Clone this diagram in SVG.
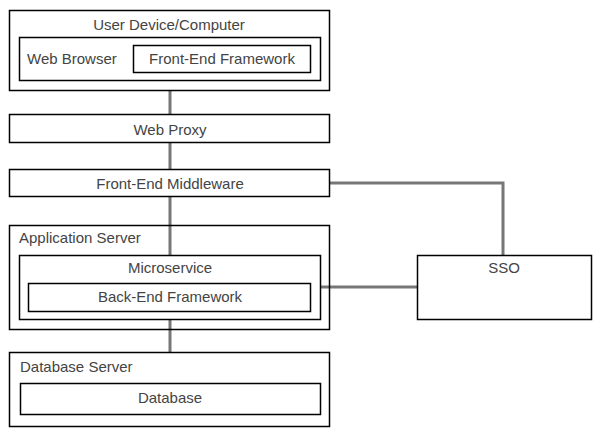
<svg xmlns="http://www.w3.org/2000/svg" width="599" height="439" viewBox="0 0 599 439">
<style>
rect{fill:#fff;stroke:#000;stroke-width:1.5}
text{font-family:"Liberation Sans",Arial,sans-serif;font-size:15px;fill:#444}
.c{text-anchor:middle}
.conn path{fill:none;stroke:#777;stroke-width:3}
</style>
<rect x="0" y="0" width="599" height="439" style="stroke:none"/>
<g class="conn">
<path d="M170 73V114"/>
<path d="M170 143V169"/>
<path d="M170 197V255"/>
<path d="M170 320V352"/>
<path d="M330 183H503V256"/>
<path d="M321 287H417"/>
</g>
<g id="user-device">
<rect x="9.5" y="10.5" width="320" height="80"/>
<text class="c" x="169" y="30">User Device/Computer</text>
<g id="web-browser">
<rect x="19.5" y="37.5" width="301" height="43"/>
<text x="27" y="64">Web Browser</text>
</g>
<g id="front-end-framework">
<rect x="133.5" y="45.5" width="177" height="27"/>
<text class="c" x="222" y="64">Front-End Framework</text>
</g>
</g>
<g id="web-proxy">
<rect x="9.5" y="114.5" width="320" height="28"/>
<text class="c" x="170" y="135">Web Proxy</text>
</g>
<g id="front-end-middleware">
<rect x="9.5" y="169.5" width="320" height="27"/>
<text class="c" x="170" y="189">Front-End Middleware</text>
</g>
<g id="application-server">
<rect x="9.5" y="225.5" width="320" height="104" style="fill:none"/>
<text x="19" y="243">Application Server</text>
<g id="microservice">
<rect x="19.5" y="255.5" width="301" height="64"/>
<text class="c" x="170" y="273">Microservice</text>
</g>
<g id="back-end-framework">
<rect x="28.5" y="283.5" width="282" height="28"/>
<text class="c" x="170" y="302">Back-End Framework</text>
</g>
</g>
<g id="database-server">
<rect x="9.5" y="352.5" width="320" height="74"/>
<text x="20" y="372">Database Server</text>
<g id="database">
<rect x="20.5" y="383.5" width="300" height="31"/>
<text class="c" x="170" y="403">Database</text>
</g>
</g>
<g id="sso">
<rect x="417.5" y="255.5" width="174" height="64"/>
<text class="c" x="504" y="273">SSO</text>
</g>
</svg>
